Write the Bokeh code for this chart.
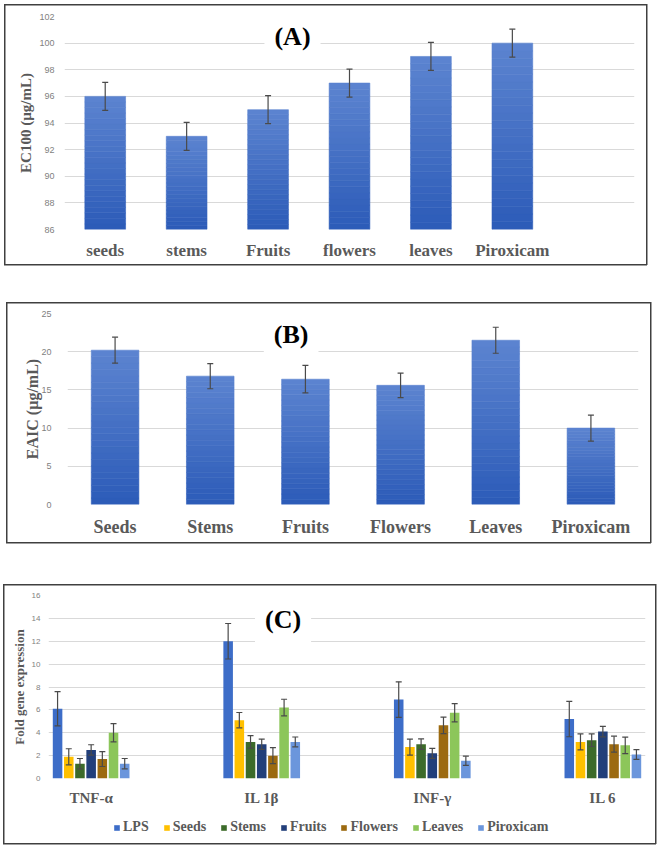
from bokeh.plotting import figure
from bokeh.models import (ColumnDataSource, Whisker, TeeHead, Label,
                          FixedTicker, Legend, LegendItem, Range1d, FactorRange)
from bokeh.layouts import column
from bokeh.embed import file_html
from bokeh.resources import INLINE

# ---------------- data ----------------
a_cats = ["seeds", "stems", "Fruits", "flowers", "leaves", "Piroxicam"]
a_vals = [96, 93, 95, 97, 99, 100]
a_err = [1.05, 1.05, 1.05, 1.05, 1.05, 1.05]
a_yticks = [86, 88, 90, 92, 94, 96, 98, 100, 102]

b_cats = ["Seeds", "Stems", "Fruits", "Flowers", "Leaves", "Piroxicam"]
b_vals = [20.2, 16.8, 16.4, 15.6, 21.5, 10.0]
b_err = [1.7, 1.65, 1.8, 1.6, 1.7, 1.7]
b_yticks = [0, 5, 10, 15, 20, 25]

c_genes = ["TNF-α", "IL 1β", "INF-γ", "IL 6"]
c_series = ["LPS", "Seeds", "Stems", "Fruits", "Flowers", "Leaves", "Piroxicam"]
c_lps = [6.1, 12.0, 6.9, 5.2]
c_lps_err = [1.5, 1.55, 1.55, 1.55]
c_seeds = [1.9, 5.1, 2.75, 3.2]
c_seeds_err = [0.7, 0.67, 0.7, 0.7]
c_stems = [1.3, 3.2, 3.0, 3.35]
c_stems_err = [0.45, 0.55, 0.46, 0.55]
c_fruits = [2.5, 3.0, 2.2, 4.1]
c_fruits_err = [0.45, 0.45, 0.44, 0.46]
c_flowers = [1.7, 2.0, 4.65, 3.0]
c_flowers_err = [0.65, 0.7, 0.72, 0.7]
c_leaves = [4.0, 6.2, 5.75, 2.9]
c_leaves_err = [0.8, 0.73, 0.8, 0.72]
c_pirox = [1.3, 3.2, 1.55, 2.1]
c_pirox_err = [0.45, 0.43, 0.4, 0.43]
c_yticks = [0, 2, 4, 6, 8, 10, 12, 14, 16]

c_values = [c_lps, c_seeds, c_stems, c_fruits, c_flowers, c_leaves, c_pirox]
c_errors = [c_lps_err, c_seeds_err, c_stems_err, c_fruits_err, c_flowers_err, c_leaves_err, c_pirox_err]
c_colors = ["#3d6dc8", "#ffc000", "#3c6b2a", "#223f7a", "#9c6a10", "#8cc65a", "#6b96dc"]

# ---------------- styles ----------------
GRAD_TOP = (92, 132, 208)
GRAD_BOT = (44, 91, 184)
GRID = "#d9d9d9"
TXT = "#595959"
ERR = "#4a4a4a"
SERIF = "Liberation Serif"
SANS = "Liberation Sans"


def frame_css(l, t, r, b, lw=1.5, col="#404040", top=True, bottom=True):
    g = f"linear-gradient({col},{col})"
    w, h = r - l, b - t
    parts = [f"{g} {l}px {t}px / {lw}px {h}px no-repeat",
             f"{g} {r - lw}px {t}px / {lw}px {h}px no-repeat"]
    if top:
        parts.append(f"{g} {l}px {t}px / {w}px {lw}px no-repeat")
    if bottom:
        parts.append(f"{g} {l}px {b - lw}px / {w}px {lw}px no-repeat")
    return {"background": ", ".join(parts)}


def base_style(p, tick_size, tick_standoff, label_size, label_standoff, xlab_size, xstand):
    p.outline_line_color = None
    p.border_fill_color = None
    p.background_fill_color = None
    p.xgrid.grid_line_color = None
    p.ygrid.grid_line_color = GRID
    p.ygrid.grid_line_width = 1
    for ax in p.yaxis:
        ax.axis_line_color = None
        ax.major_tick_line_color = None
        ax.minor_tick_line_color = None
        ax.major_tick_out = 0
        ax.major_tick_in = 0
        ax.major_label_text_font = SANS
        ax.major_label_text_font_size = tick_size
        ax.major_label_text_color = "#7f7f7f"
        ax.major_label_standoff = tick_standoff
        ax.axis_label_text_font = SERIF
        ax.axis_label_text_font_style = "bold"
        ax.axis_label_text_font_size = label_size
        ax.axis_label_text_color = TXT
        ax.axis_label_standoff = label_standoff
    for ax in p.xaxis:
        ax.axis_line_color = None
        ax.major_tick_line_color = None
        ax.minor_tick_line_color = None
        ax.major_tick_out = 0
        ax.major_tick_in = 0
        ax.major_label_text_font = SERIF
        ax.major_label_text_font_style = "bold"
        ax.major_label_text_font_size = xlab_size
        ax.major_label_text_color = TXT
        ax.major_label_standoff = xstand


def whisker(src, base, up, lo):
    return Whisker(source=src, base=base, upper=up, lower=lo, level="overlay",
                   line_color=ERR, line_width=1.2,
                   upper_head=TeeHead(size=6, line_color=ERR, line_width=1.2),
                   lower_head=TeeHead(size=6, line_color=ERR, line_width=1.2))


def title_label(x, y, text):
    return Label(x=x, y=y, text=text, text_font=SERIF, text_font_style="bold",
                 text_font_size="26px", text_color="black", text_align="center",
                 text_baseline="middle", background_fill_color="white", padding=10)


def gradient_bars(p, xs, tops, base, width, k=24):
    """Each bar is split into k slices whose colour runs from dark (bottom) to light (top)."""
    gx, gb, gt, gc = [], [], [], []
    for x, top in zip(xs, tops):
        for i in range(k):
            f = (i + 0.5) / k
            rgb = tuple(int(round(GRAD_BOT[j] + (GRAD_TOP[j] - GRAD_BOT[j]) * f)) for j in range(3))
            gx.append(x)
            gb.append(base + (top - base) * i / k)
            gt.append(base + (top - base) * (i + 1) / k)
            gc.append("#%02x%02x%02x" % rgb)
    src = ColumnDataSource(dict(x=gx, bottom=gb, top=gt, color=gc))
    p.vbar(x="x", bottom="bottom", top="top", width=width, source=src,
           fill_color="color", line_color="color", line_width=0.6)


# ---------------- Panel A ----------------
a_x = [i + 0.5 for i in range(len(a_cats))]
src_a = ColumnDataSource(dict(x=a_x, top=a_vals,
                              upper=[v + e for v, e in zip(a_vals, a_err)],
                              lower=[v - e for v, e in zip(a_vals, a_err)]))
pa = figure(width=658, height=283, output_backend="svg", toolbar_location=None,
            frame_align=False,
            x_range=Range1d(0, len(a_cats) + 1), y_range=Range1d(86, 102),
            min_border_left=64, min_border_right=24, min_border_top=16, min_border_bottom=54)
gradient_bars(pa, a_x, a_vals, 86, 0.5)
pa.add_layout(whisker(src_a, "x", "upper", "lower"))
pa.yaxis.ticker = FixedTicker(ticks=a_yticks)
pa.xaxis.ticker = FixedTicker(ticks=a_x)
pa.xaxis.major_label_overrides = {x: c for x, c in zip(a_x, a_cats)}
pa.yaxis.axis_label = "EC100 (µg/mL)"
base_style(pa, "9px", 10, "15px", 2, "17px", 11)
pa.add_layout(title_label(2.8, 100.5, "(A)"))
pa.styles = frame_css(4, 4, 647, 265)

# ---------------- Panel B ----------------
src_b = ColumnDataSource(dict(x=b_cats, top=b_vals,
                              upper=[v + e for v, e in zip(b_vals, b_err)],
                              lower=[v - e for v, e in zip(b_vals, b_err)]))
pb = figure(width=658, height=280, output_backend="svg", toolbar_location=None,
            frame_align=False,
            x_range=FactorRange(factors=b_cats, range_padding=0), y_range=Range1d(0, 25),
            min_border_left=67, min_border_right=20, min_border_top=30, min_border_bottom=59)
gradient_bars(pb, b_cats, b_vals, 0, 0.5)
pb.add_layout(whisker(src_b, "x", "upper", "lower"))
pb.yaxis.ticker = FixedTicker(ticks=b_yticks)
pb.yaxis.axis_label = "EAIC (µg/mL)"
base_style(pb, "9px", 16, "16px", -3, "18px", 12)
pb.add_layout(title_label(2.35, 22.3, "(B)"))
pb.styles = frame_css(6, 19, 651, 260)

# ---------------- Panel C ----------------
n = len(c_series)
pitch = 0.0656
pc = figure(width=658, height=245, output_backend="svg", toolbar_location=None,
            frame_align=False,
            x_range=Range1d(-0.25, 3.25), y_range=Range1d(0, 16),
            min_border_left=48, min_border_right=13, min_border_top=32, min_border_bottom=29)
# legend strip underneath panel C (inside the same frame)
pl = figure(width=658, height=38, output_backend="svg", toolbar_location=None,
            frame_align=False, x_axis_type=None, y_axis_type=None,
            x_range=Range1d(-0.25, 3.25), y_range=Range1d(0, 16),
            min_border_left=0, min_border_right=0, min_border_top=0, min_border_bottom=0)
pl.outline_line_color = None
pl.border_fill_color = None
pl.background_fill_color = None
pl.xgrid.grid_line_color = None
pl.ygrid.grid_line_color = None

items = []
for s, (name, vals, errs, col) in enumerate(zip(c_series, c_values, c_errors, c_colors)):
    xs = [g + (s - (n - 1) / 2) * pitch for g in range(len(c_genes))]
    src = ColumnDataSource(dict(x=xs, top=vals,
                                upper=[v + e for v, e in zip(vals, errs)],
                                lower=[v - e for v, e in zip(vals, errs)]))
    pc.vbar(x="x", top="top", bottom=0, width=0.056, source=src, fill_color=col, line_color=None)
    pc.add_layout(whisker(src, "x", "upper", "lower"))
    # hidden twin of the series in the legend strip, used only for the legend key
    lr = pl.vbar(x="x", top="top", bottom=0, width=0.056, source=src, fill_color=col,
                 line_color=None, visible=False)
    items.append(LegendItem(label=name, renderers=[lr]))
pc.yaxis.ticker = FixedTicker(ticks=c_yticks)
pc.xaxis.ticker = FixedTicker(ticks=list(range(len(c_genes))))
pc.xaxis.major_label_overrides = {i: g for i, g in enumerate(c_genes)}
pc.yaxis.axis_label = "Fold gene expression"
base_style(pc, "8px", 8, "13px", 2, "15px", 11)
pc.add_layout(title_label(1.125, 13.9, "(C)"))
pc.styles = frame_css(3, 21, 656, 246, bottom=False)

legend = Legend(items=items, orientation="horizontal", location=(113, 11),
                glyph_width=7, glyph_height=7, label_standoff=3, spacing=14,
                label_text_font=SERIF, label_text_font_style="bold",
                label_text_font_size="14px", label_text_color=TXT,
                inactive_fill_alpha=0,
                border_line_color=None, background_fill_alpha=0, padding=0, margin=0)
pl.add_layout(legend)
pl.styles = frame_css(3, -2, 656, 36, top=False)

layout = column(pa, pb, pc, pl, spacing=0)
open("out.html", "w").write(file_html(layout, INLINE))
